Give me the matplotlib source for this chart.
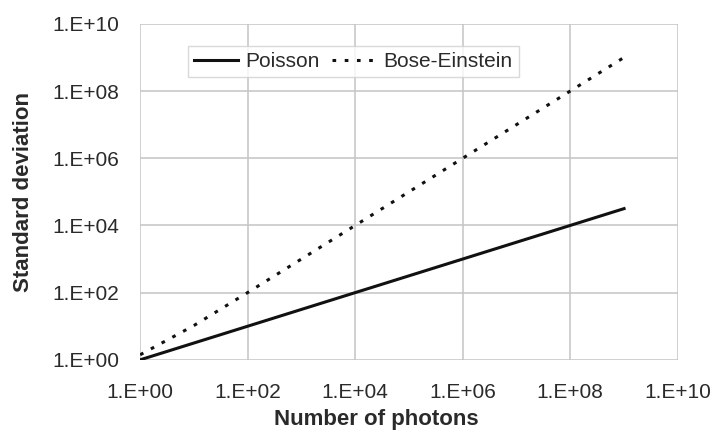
import matplotlib
matplotlib.use("Agg")
import matplotlib.pyplot as plt
from matplotlib.ticker import FixedLocator, FixedFormatter, NullLocator

plt.rcParams['font.family'] = ['Liberation Sans', 'DejaVu Sans']

photons = [1, 1e1, 1e2, 1e3, 1e4, 1e5, 1e6, 1e7, 1e8, 1e9]
poisson = [1.0, 3.162, 10.0, 31.62, 100.0, 316.2, 1000.0, 3162.0, 10000.0, 31623.0]
bose_einstein = [1.414, 10.49, 100.5, 1000.5, 1.00005e4, 1.0e5, 1.0e6, 1.0e7, 1.0e8, 1.0e9]

ticks = [1, 1e2, 1e4, 1e6, 1e8, 1e10]
tick_labels = ["1.E+00", "1.E+02", "1.E+04", "1.E+06", "1.E+08", "1.E+10"]

fig = plt.figure(figsize=(7.15, 4.33), dpi=100)
ax = fig.add_axes([0.196, 0.169, 0.752, 0.776])

ax.plot(photons, poisson, color='#111111', lw=2.2, label='Poisson')
ax.plot(photons, bose_einstein, color='#111111', lw=2.2, dashes=(1.2, 2.8), label='Bose-Einstein')

ax.set_xscale('log')
ax.set_yscale('log')
ax.set_xlim(1, 1e10)
ax.set_ylim(1, 1e10)
for axis in (ax.xaxis, ax.yaxis):
    axis.set_major_locator(FixedLocator(ticks))
    axis.set_major_formatter(FixedFormatter(tick_labels))
    axis.set_minor_locator(NullLocator())
ax.tick_params(axis='both', length=0, labelsize=15, colors='#2a2a2a')
ax.tick_params(axis='x', pad=17)
ax.tick_params(axis='y', pad=15)
ax.grid(True, color='#c4c4c4', lw=1.1)
for s in ax.spines.values():
    s.set_visible(False)

ax.set_xlabel('Number of photons', fontsize=16, fontweight='bold', color='#2a2a2a')
ax.xaxis.set_label_coords(0.44, -0.145)
ax.set_ylabel('Standard deviation', fontsize=16, fontweight='bold', color='#2a2a2a')
ax.yaxis.set_label_coords(-0.197, 0.5)

leg = ax.legend(loc='upper left', bbox_to_anchor=(0.089, 0.935), borderaxespad=0, ncol=2,
                fontsize=15, frameon=True, fancybox=False, handlelength=2.1,
                handletextpad=0.35, columnspacing=0.6, borderpad=0.3)
leg.get_frame().set_edgecolor('#d0d0d0')
leg.get_frame().set_linewidth(1.0)
for t in leg.get_texts():
    t.set_color('#2a2a2a')

fig.savefig('out.png', dpi=100)
